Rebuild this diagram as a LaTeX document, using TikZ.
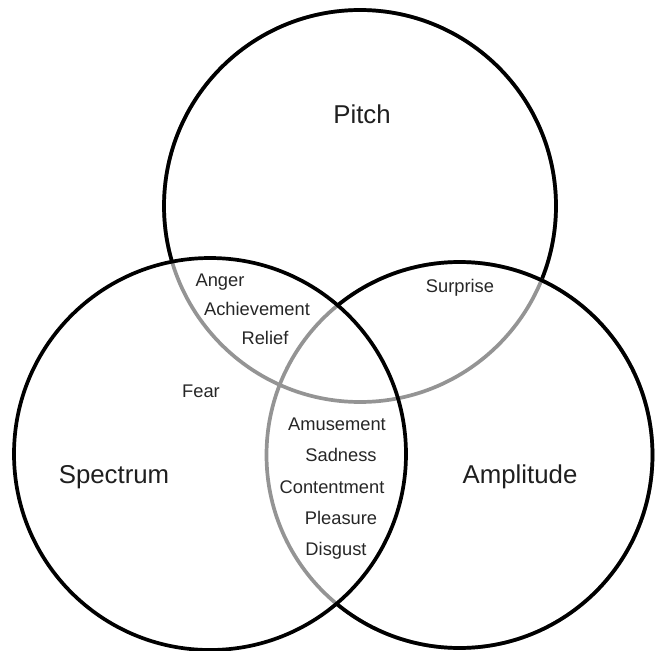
\documentclass[tikz,border=0pt]{standalone}
\usepackage{fontspec}
\setmainfont{Liberation Sans}
\begin{document}
\begin{tikzpicture}[x=1pt,y=-1pt,
  ring/.style={line width=3.7pt, draw=black},
  innerring/.style={line width=3.7pt, draw=black!42},
  big/.style={anchor=base, text=black!88, font=\fontsize{25.8}{28}\selectfont, inner sep=0pt},
  small/.style={anchor=base, text=black!85, font=\fontsize{18.3}{20}\selectfont, inner sep=0pt}]
\useasboundingbox (0,0) rectangle (655,650);
\coordinate (P) at (360,206);
\coordinate (S) at (210,454);
\coordinate (A) at (459.5,455);
% Pitch circle: grey where inside the other circles
\draw[innerring] (P) circle[radius=196pt];
\begin{scope}[even odd rule]
  \clip (-20,-20) rectangle (700,700) (S) circle[radius=196pt];
  \clip (-20,-20) rectangle (700,700) (A) circle[radius=193pt];
  \draw[ring] (P) circle[radius=196pt];
\end{scope}
% Amplitude circle: grey where inside Spectrum
\draw[innerring] (A) circle[radius=193pt];
\begin{scope}[even odd rule]
  \clip (-20,-20) rectangle (700,700) (S) circle[radius=196pt];
  \draw[ring] (A) circle[radius=193pt];
\end{scope}
% Spectrum circle
\draw[ring] (S) circle[radius=196pt];
% labels
\node[big] (pitch) at (362,123) {Pitch};
\node[big] (spectrum) at (114,483) {Spectrum};
\node[big] (amplitude) at (520,483) {Amplitude};
\node[small] (anger) at (220,286) {Anger};
\node[small] (achievement) at (257,315.5) {Achievement};
\node[small] (relief) at (265,344) {Relief};
\node[small] (fear) at (201,397) {Fear};
\node[small] (surprise) at (460,292.5) {Surprise};
\node[small] (amusement) at (337,430.5) {Amusement};
\node[small] (sadness) at (341,461.5) {Sadness};
\node[small] (contentment) at (332,493) {Contentment};
\node[small] (pleasure) at (341,524.5) {Pleasure};
\node[small] (disgust) at (336,555.5) {Disgust};
\end{tikzpicture}
\end{document}
